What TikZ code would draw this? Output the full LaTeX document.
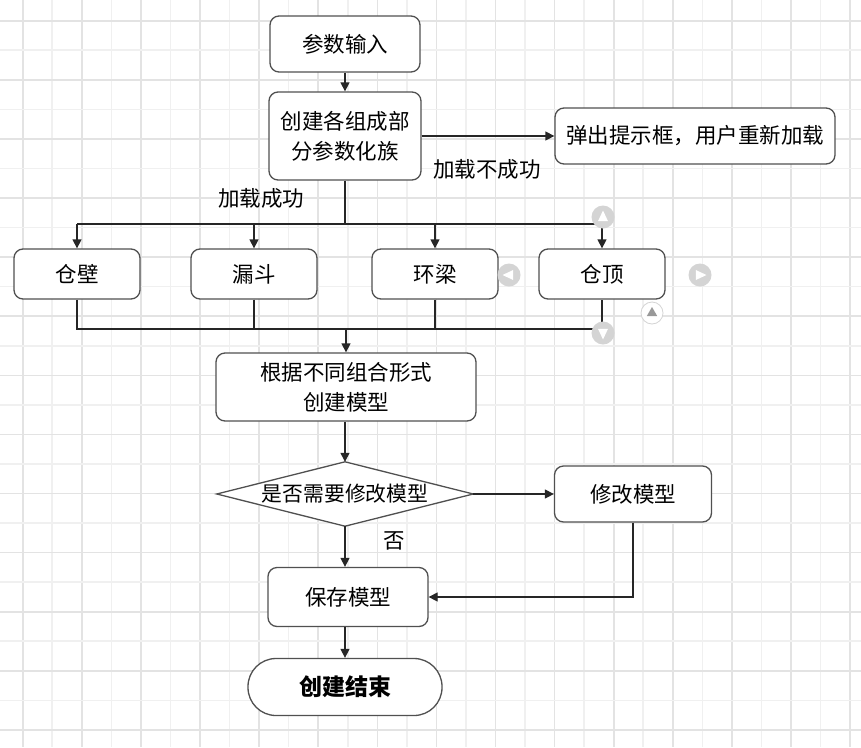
\documentclass[tikz,border=0pt]{standalone}
\usepackage{fontspec}
\setmainfont{Noto Sans CJK SC}
\usetikzlibrary{arrows.meta}
\definecolor{gridA}{HTML}{E3E3E3}
\definecolor{gridB}{HTML}{F0F0F0}
\definecolor{boxc}{HTML}{505050}
\definecolor{linec}{HTML}{262626}
\definecolor{iconc}{HTML}{D4D4D4}
\tikzset{
  box/.style={draw=boxc, line width=1.3pt, rounded corners=9pt, fill=white,
    inner sep=0pt, align=center, font=\fontsize{21.5}{30}\selectfont},
  lbl/.style={inner sep=0pt, font=\fontsize{21.5}{24}\selectfont},
  arr/.style={line width=1.3pt, draw=linec, -{Triangle[length=9pt,width=9pt]}},
  ln/.style={line width=1.3pt, draw=linec},
}
\begin{document}
\begin{tikzpicture}[x=1pt,y=-1pt]
\useasboundingbox (0,0) rectangle (861,747);
\fill[white] (0,0) rectangle (861,747);
% grid
\foreach \i in {0,...,28}{
  \pgfmathsetmacro\xx{22.7+\i*29.55}
  \pgfmathtruncatemacro\pty{mod(\i,2)}
  \ifnum\pty=0 \draw[gridA,line width=1.6pt] (\xx,0) -- (\xx,747);
  \else \draw[gridB,line width=1.6pt] (\xx,0) -- (\xx,747); \fi
}
\foreach \i in {0,...,24}{
  \pgfmathsetmacro\yy{20.7+\i*29.55}
  \pgfmathtruncatemacro\pty{mod(\i,2)}
  \ifnum\pty=0 \draw[gridA,line width=1.6pt] (0,\yy) -- (861,\yy);
  \else \draw[gridB,line width=1.6pt] (0,\yy) -- (861,\yy); \fi
}
% nodes
\node[box, minimum width=150pt, minimum height=56pt] (n1) at (345,44) {参数输入};
\node[box, minimum width=152pt, minimum height=88pt] (n2) at (345,136) {创建各组成部\\分参数化族};
\node[box, minimum width=280pt, minimum height=56pt] (n3) at (695,136) {弹出提示框，用户重新加载};
\node[box, minimum width=126pt, minimum height=50pt] (b1) at (77,274) {仓壁};
\node[box, minimum width=126pt, minimum height=50pt] (b2) at (254,274) {漏斗};
\node[box, minimum width=126pt, minimum height=50pt] (b3) at (435,274) {环梁};
\node[box, minimum width=126pt, minimum height=50pt] (b4) at (602,274) {仓顶};
\node[box, minimum width=260pt, minimum height=68pt] (n5) at (346,387) {根据不同组合形式\\创建模型};
\node[minimum width=256pt, minimum height=64pt, inner sep=0pt] (d) at (345,494) {};
\draw[boxc, line width=1.3pt, fill=white] (d.north) -- (d.east) -- (d.south) -- (d.west) -- cycle;
\node[lbl, font=\fontsize{20.8}{24}\selectfont] (dt) at (d.center) {是否需要修改模型};
\node[box, minimum width=157pt, minimum height=56pt] (m) at (633,494) {修改模型};
\node[box, minimum width=160pt, minimum height=59pt] (s) at (348,597) {保存模型};
\node[box, minimum width=194pt, minimum height=57pt, rounded corners=28pt,
  font=\fontsize{23}{24}\selectfont\bfseries] (e) at (345,687) {创建结束};
% bus coordinates
\coordinate (t0) at (345,224);
\coordinate (t1) at (b1.north |- t0);
\coordinate (t4) at (b4.north |- t0);
\coordinate (u0) at (346,329);
\coordinate (u1) at (b1.south |- u0);
\coordinate (u4) at (b4.south |- u0);
\coordinate (k) at (m.south |- s.east);
% connectors
\draw[arr] (n1) -- (n2);
\draw[arr] (n2.east) -- (n3.west);
\draw[ln] (n2.south) -- (t0);
\draw[ln] (t1) -- (t4);
\draw[arr] (t1) -- (b1.north);
\draw[arr] (b2.north |- t0) -- (b2.north);
\draw[arr] (b3.north |- t0) -- (b3.north);
\draw[arr] (t4) -- (b4.north);
\draw[ln] (b1.south) -- (u1) -- (u4) -- (b4.south);
\draw[ln] (b2.south) -- (b2.south |- u0);
\draw[ln] (b3.south) -- (b3.south |- u0);
\draw[arr] (u0) -- (n5.north -| u0);
\draw[arr] (n5.south -| d.north) -- (d.north);
\draw[arr] (d.east) -- (m.west);
\draw[arr] (d.south) -- (s.north -| d.south);
\draw[arr] (m.south) -- (k) -- (s.east);
\draw[arr] (s.south -| e.north) -- (e.north);
% labels
\node[lbl] (l1) at (487,169) {加载不成功};
\node[lbl] (l2) at (261,198) {加载成功};
\node[lbl] (l3) at (394,541) {否};
% editor hover icons
\foreach \p/\a in {{(603,217)}/90, {(603,333)}/-90, {(509,275)}/180, {(700,275)}/0}{
  \fill[iconc] \p circle (11.5pt);
  \fill[white, shift={\p}] (\a:6.5pt) -- (\a+130:6.5pt) -- (\a-130:6.5pt) -- cycle;
}
\draw[iconc, line width=0.8pt, fill=white] (652,313) circle (11pt);
\fill[gray!80, shift={(652,313)}] (90:6pt) -- (210:6pt) -- (330:6pt) -- cycle;
\end{tikzpicture}
\end{document}
